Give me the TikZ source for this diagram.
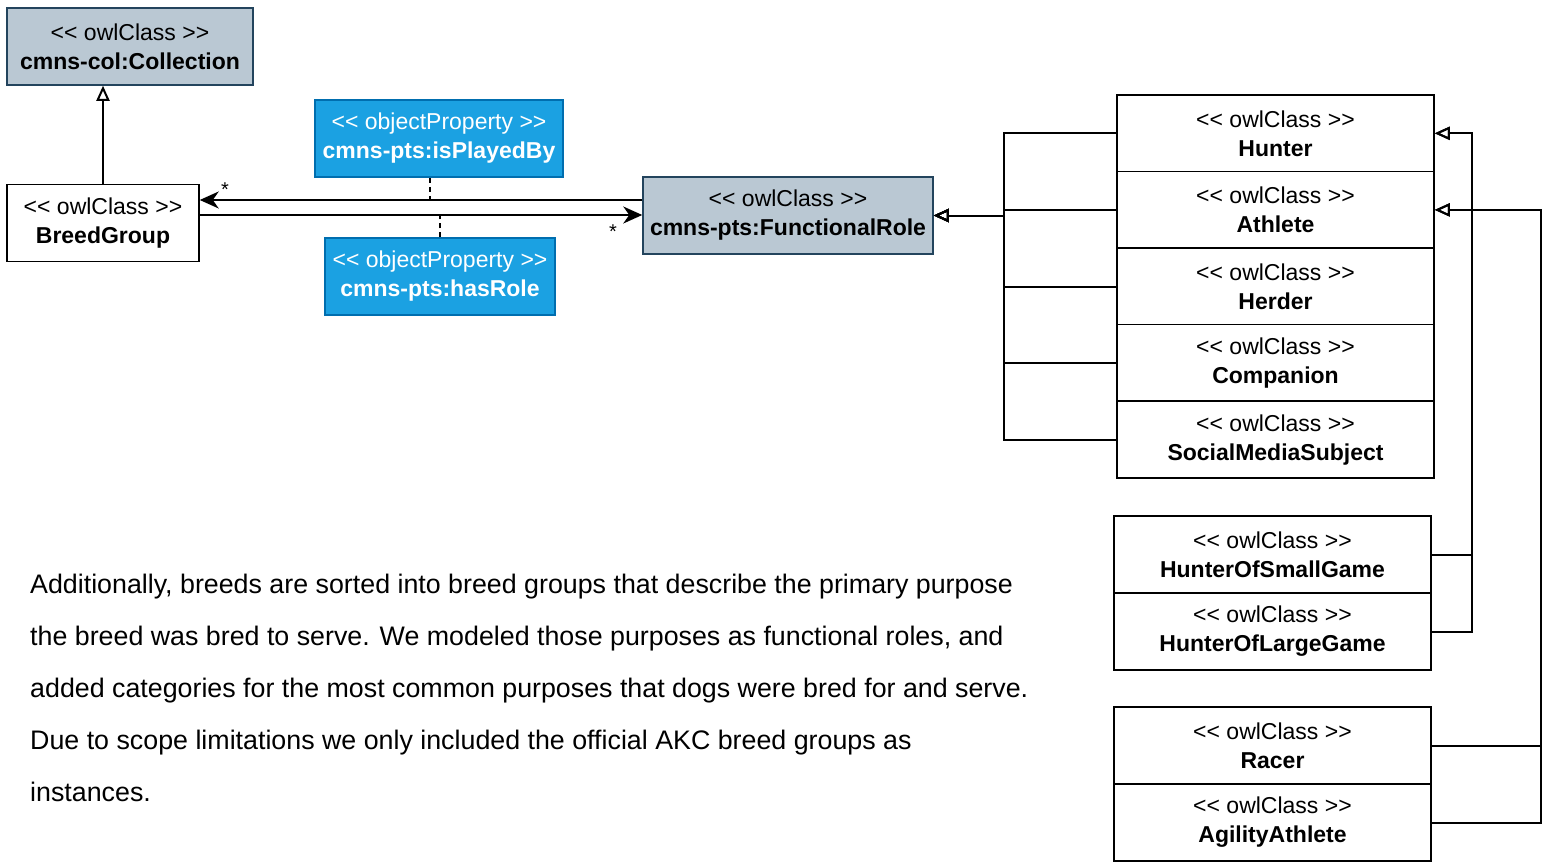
\documentclass[tikz,border=0pt]{standalone}
\usepackage{fontspec}
\setmainfont{Liberation Sans}
\usetikzlibrary{arrows.meta}
\definecolor{clsfill}{HTML}{BAC8D3}
\definecolor{clsdraw}{HTML}{23445D}
\definecolor{propfill}{HTML}{1BA1E2}
\definecolor{propdraw}{HTML}{006EAF}
% stereotype label with guillemet-free angle brackets
\newcommand\stereo[1]{<\kern0pt< #1 >\kern0pt>}
\begin{document}
\begin{tikzpicture}[x=1pt,y=-1pt,
  box/.style={draw, line width=1.5pt, inner sep=0pt, align=center,
    font=\fontsize{23}{29}\selectfont, minimum height=77pt},
  cls/.style={box, fill=white, draw=black},
  core/.style={box, fill=clsfill, draw=clsdraw},
  prop/.style={box, fill=propfill, draw=propdraw, text=white},
  conn/.style={line width=2pt},
  gen/.style={conn, -{Triangle[open, length=15pt, width=13pt]}},
  assoc/.style={conn, -{Stealth[length=19pt, width=17pt, inset=6pt]}},
  dashlink/.style={line width=1.5pt, dash pattern=on 5pt off 4pt},
  mult/.style={font=\fontsize{20}{20}\selectfont, inner sep=0pt}
]
\useasboundingbox (0,0) rectangle (1551,862);

% core classes
\node[core, minimum width=246pt] (coll) at (130,46.5) {\stereo{owlClass}\\\textbf{cmns-col:Collection}};
\node[cls, minimum width=192pt] (bg) at (103,223) {\stereo{owlClass}\\\textbf{BreedGroup}};
\node[core, minimum width=290pt] (fr) at (788,215.5) {\stereo{owlClass}\\\textbf{cmns-pts:FunctionalRole}};

% object properties
\node[prop, minimum width=248pt] (pb) at (439,138.5) {\stereo{objectProperty}\\\textbf{cmns-pts:isPlayedBy}};
\node[prop, minimum width=230pt] (hr) at (440,276.5) {\stereo{objectProperty}\\\textbf{cmns-pts:hasRole}};

% functional role subclasses
\node[cls, minimum width=317pt] (hunter) at (1275.5,133.3) {\stereo{owlClass}\\\textbf{Hunter}};
\node[cls, minimum width=317pt] (athlete) at (1275.5,209.9) {\stereo{owlClass}\\\textbf{Athlete}};
\node[cls, minimum width=317pt] (herder) at (1275.5,286.5) {\stereo{owlClass}\\\textbf{Herder}};
\node[cls, minimum width=317pt] (companion) at (1275.5,363.1) {\stereo{owlClass}\\\textbf{Companion}};
\node[cls, minimum width=317pt] (sms) at (1275.5,439.7) {\stereo{owlClass}\\\textbf{SocialMediaSubject}};

\node[cls, minimum width=317pt] (hosg) at (1272.5,554.5) {\stereo{owlClass}\\\textbf{HunterOfSmallGame}};
\node[cls, minimum width=317pt] (holg) at (1272.5,631.5) {\stereo{owlClass}\\\textbf{HunterOfLargeGame}};
\node[cls, minimum width=317pt] (racer) at (1272.5,745.5) {\stereo{owlClass}\\\textbf{Racer}};
\node[cls, minimum width=317pt] (agility) at (1272.5,822.5) {\stereo{owlClass}\\\textbf{AgilityAthlete}};

% generalization to Collection
\draw[gen] (bg.north) -- (bg.north |- coll.south);

% associations
\coordinate (pbJoin) at (430,200);
\coordinate (hrJoin) at (440,215);
\draw[assoc] (fr.west |- pbJoin) -- (bg.east |- pbJoin);
\draw[assoc] (bg.east |- hrJoin) -- (fr.west |- hrJoin);
\draw[dashlink] (pb.south -| pbJoin) -- (pbJoin);
\draw[dashlink] (hr.north -| hrJoin) -- (hrJoin);
\node[mult] (m1) at (225,190) {*};
\node[mult] (m2) at (613,232) {*};

% generalizations to FunctionalRole
\foreach \n in {hunter,athlete,herder,companion,sms}
  \draw[gen] (\n.west) -| (fr.east -| 1004,0) -- (fr.east);

% generalizations to Hunter and Athlete
\draw[gen] (hosg.east) -| (hunter.east -| 1472,0) -- (hunter.east);
\draw[gen] (holg.east) -| (hunter.east -| 1472,0) -- (hunter.east);
\draw[gen] (racer.east) -| (athlete.east -| 1541,0) -- (athlete.east);
\draw[gen] (agility.east) -| (athlete.east -| 1541,0) -- (athlete.east);

% description
\node[anchor=north west, inner sep=0pt, align=left,
  font=\fontsize{26.8}{52}\selectfont] (para) at (30,574)
  {Additionally, breeds are sorted into breed groups that describe the primary purpose\\
   the breed was bred to serve. We modeled those purposes as functional roles, and\\
   added categories for the most common purposes that dogs were bred for and serve.\\
   Due to scope limitations we only included the official AKC breed groups as\\
   instances.};
\end{tikzpicture}
\end{document}
